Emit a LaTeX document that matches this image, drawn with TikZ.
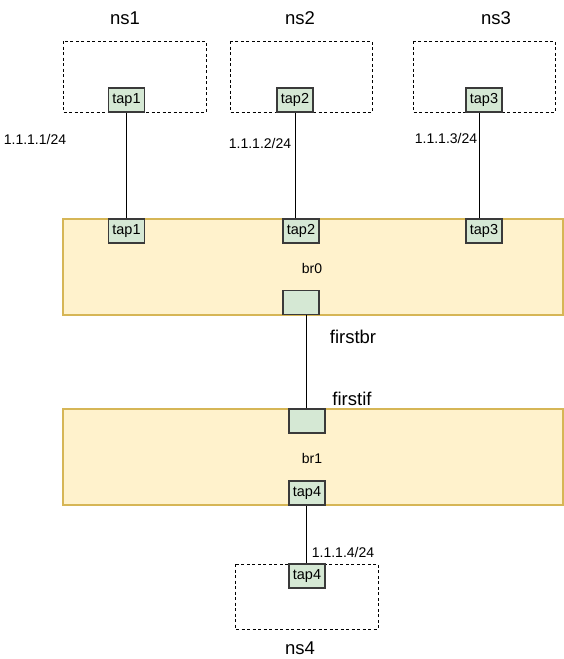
\documentclass[tikz,border=0pt]{standalone}
\usepackage{fontspec}
\setmainfont{Liberation Sans}
\begin{document}
\begin{tikzpicture}[x=1pt,y=-1pt,
  nsbox/.style={draw=black,line width=1pt,dash pattern=on 3pt off 2.5pt},
  brbox/.style={draw=brborder,fill=brfill,line width=1.6pt},
  tapbox/.style={draw=tapborder,fill=tapfill,line width=1.2pt,minimum width=36pt,minimum height=24pt,inner sep=0pt,font=\fontsize{14.5}{15}\selectfont},
  big/.style={font=\fontsize{18.5}{20}\selectfont,inner sep=0pt},
  small/.style={font=\fontsize{14}{15}\selectfont,inner sep=0pt},
  link/.style={draw=black,line width=1pt}]
\definecolor{brfill}{HTML}{FFF2CC}
\definecolor{brborder}{HTML}{D6B656}
\definecolor{tapfill}{HTML}{D5E8D4}
\definecolor{tapborder}{HTML}{3A3A3A}
\useasboundingbox[fill=white] (0,0) rectangle (564,659);
% namespaces
\draw[nsbox] (63,41) rectangle (206,112);
\draw[nsbox] (230,41) rectangle (372,112);
\draw[nsbox] (413,41) rectangle (555,112);
\draw[nsbox] (235,564) rectangle (378,629);
\node[big] (ns1) at (125,18) {ns1};
\node[big] (ns2) at (300,18) {ns2};
\node[big] (ns3) at (496,18) {ns3};
\node[big] (ns4) at (300,648) {ns4};
% bridges
\draw[brbox] (63,219) rectangle (563,315);
\draw[brbox] (63,409) rectangle (563,505);
\node[small] (br0) at (312,268) {br0};
\node[small] (br1) at (312,458) {br1};
% taps in namespaces
\node[tapbox] (t1a) at (126.5,100) {tap1};
\node[tapbox] (t2a) at (295,100) {tap2};
\node[tapbox] (t3a) at (484,100) {tap3};
\node[tapbox] (t4a) at (307,576) {tap4};
% taps on bridges
\node[tapbox] (t1b) at (126.5,231) {tap1};
\node[tapbox] (t2b) at (301,231) {tap2};
\node[tapbox] (t3b) at (484,231) {tap3};
\node[tapbox] (fbr) at (301,302.5) {};
\node[tapbox] (fif) at (307,421) {};
\node[tapbox] (t4b) at (307,493) {tap4};
% links
\draw[link] (t1a.south) -- (t1b.north);
\draw[link] (t2a.south) -- (t2a.south |- t2b.north);
\draw[link] ([xshift=-5pt]t3a.south) -- ([xshift=-5pt]t3b.north);
\draw[link] ([xshift=5pt]fbr.south) -- ([xshift=-1pt]fif.north);
\draw[link] ([xshift=-1pt]t4b.south) -- ([xshift=-1pt]t4a.north);
% labels
\node[small] (ip1) at (35,139) {1.1.1.1/24};
\node[small] (ip2) at (260,143) {1.1.1.2/24};
\node[small] (ip3) at (446,138) {1.1.1.3/24};
\node[small] (ip4) at (343,552) {1.1.1.4/24};
\node[big] (lfbr) at (353,337) {firstbr};
\node[big] (lfif) at (352,399) {firstif};
\end{tikzpicture}
\end{document}
